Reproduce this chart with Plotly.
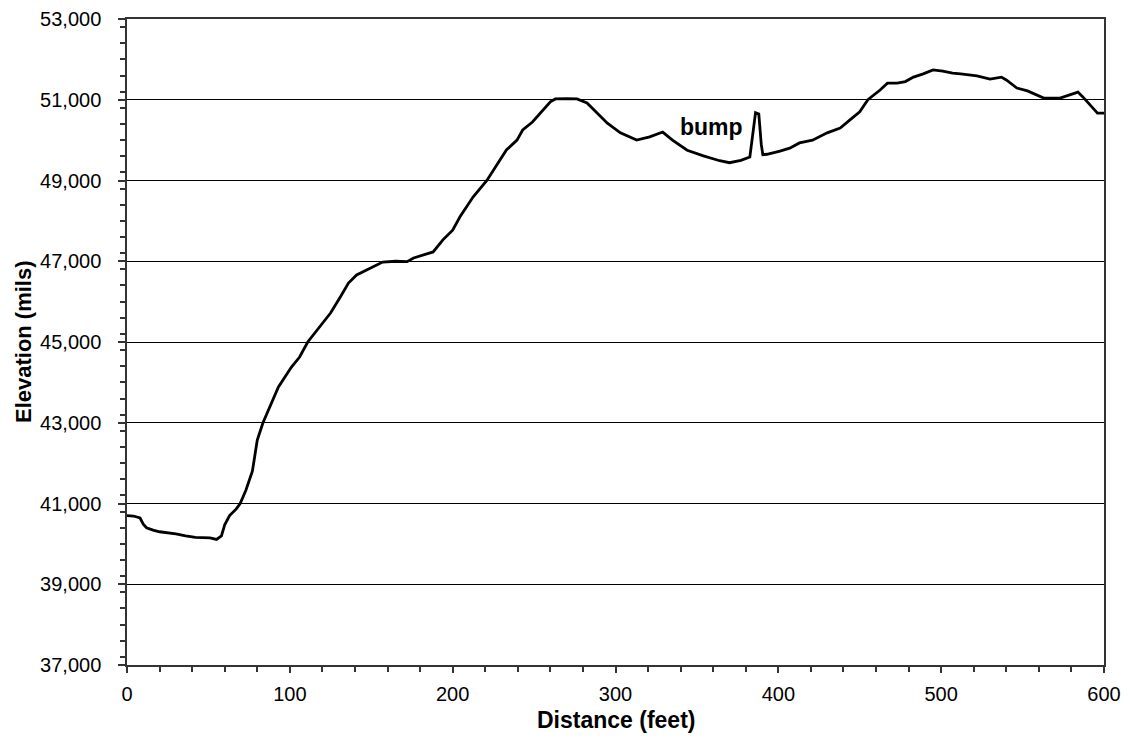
import plotly.graph_objects as go

distance_ft = [0, 4, 8, 10, 12, 16, 20, 30, 36, 42, 51, 55, 58, 60, 63, 67, 69.5, 73, 77, 80, 83.5,
               89, 93, 101, 106, 111, 118.5, 125, 131, 136, 141, 147, 153.5, 157, 165, 172, 176,
               188, 194, 200, 204.5, 212.5, 221, 227, 233, 239.5, 243, 249, 255.5, 260, 263, 270,
               276.4, 282.5, 288.7, 295, 303, 313, 321, 329, 335, 344, 354, 364, 370, 377, 382.5,
               384.5, 386, 388, 389.5, 390.5, 393, 401, 407, 413, 421, 430, 438, 444, 450, 455,
               462.5, 467, 473, 478, 483, 489, 495, 501, 507, 512, 522, 530, 537, 540, 546.5,
               553, 559, 563, 573, 579, 584, 587, 591.5, 596, 600]
elevation_mils = [40700, 40690, 40640, 40490, 40400, 40340, 40300, 40250, 40200, 40160, 40150, 40110, 40200, 40470, 40700, 40860, 41000, 41330, 41800, 42573, 43000,
                  43489, 43885, 44381, 44628, 45000, 45372, 45718, 46115, 46461, 46659, 46783, 46907, 46980, 47000, 46990, 47080,
                  47230, 47530, 47770, 48100, 48590, 49000, 49380, 49755, 50000, 50250, 50450, 50750, 50950, 51020, 51030,
                  51020, 50920, 50670, 50420, 50180, 50000, 50080, 50200, 50000, 49750, 49610, 49490, 49440, 49500, 49580,
                  50300, 50680, 50650, 49900, 49640, 49650, 49730, 49800, 49930, 50000, 50180, 50300, 50500, 50700, 51000,
                  51240, 51410, 51410, 51450, 51560, 51640, 51740, 51710, 51660, 51640, 51590, 51510, 51560, 51490, 51290,
                  51220, 51120, 51040, 51040, 51120, 51190, 51070, 50870, 50670, 50670]

y_ticks = [37000, 39000, 41000, 43000, 45000, 47000, 49000, 51000, 53000]
y_tick_labels = ["37,000", "39,000", "41,000", "43,000", "45,000", "47,000", "49,000", "51,000", "53,000"]
x_ticks = [0, 100, 200, 300, 400, 500, 600]

FONT = "Liberation Sans, Arial, sans-serif"

fig = go.Figure()
fig.add_trace(go.Scatter(x=distance_ft, y=elevation_mils, mode="lines",
                         line=dict(color="black", width=2.8), showlegend=False,
                         hoverinfo="x+y"))

fig.add_annotation(x=359, y=50325, xref="x", yref="y", text="<b>bump</b>",
                   showarrow=False, font=dict(family=FONT, size=23, color="black"))
fig.add_annotation(x=0.5, y=-0.085, xref="paper", yref="paper", text="<b>Distance (feet)</b>",
                   showarrow=False, font=dict(family=FONT, size=23, color="black"),
                   xanchor="center", yanchor="middle")
fig.add_annotation(x=-0.1064, y=0.5, xref="paper", yref="paper", text="<b>Elevation (mils)</b>",
                   showarrow=False, textangle=-90, font=dict(family=FONT, size=22, color="black"),
                   xanchor="center", yanchor="middle")

fig.update_layout(
    width=1121, height=741,
    margin=dict(l=119, r=25, t=11, b=84, autoexpand=False),
    paper_bgcolor="white", plot_bgcolor="white",
    font=dict(family=FONT, size=20, color="black"),
    xaxis=dict(range=[0, 600], tickvals=x_ticks, ticktext=[str(v) for v in x_ticks],
               showgrid=False, zeroline=False, showline=True, linecolor="#333", linewidth=1.5,
               mirror=True, ticks="outside", ticklen=6, tickcolor="#333", tickwidth=1.5,
               automargin=False, ticklabelstandoff=4,
               minor=dict(dtick=20, ticks="outside", ticklen=5, tickcolor="#333", tickwidth=1.5, showgrid=False),
               tickfont=dict(family=FONT, size=20, color="black")),
    yaxis=dict(range=[37000, 53000], tickvals=y_ticks, ticktext=y_tick_labels,
               showgrid=True, gridcolor="black", gridwidth=1, zeroline=False,
               showline=True, linecolor="#333", linewidth=1.5, mirror=True,
               ticks="outside", ticklen=7, tickcolor="#333", tickwidth=1.5,
               automargin=False, ticklabelstandoff=13,
               minor=dict(dtick=400, ticks="outside", ticklen=5, tickcolor="#333", tickwidth=1.5, showgrid=False),
               tickfont=dict(family=FONT, size=20, color="black")),
)

fig.write_html("out.html")
